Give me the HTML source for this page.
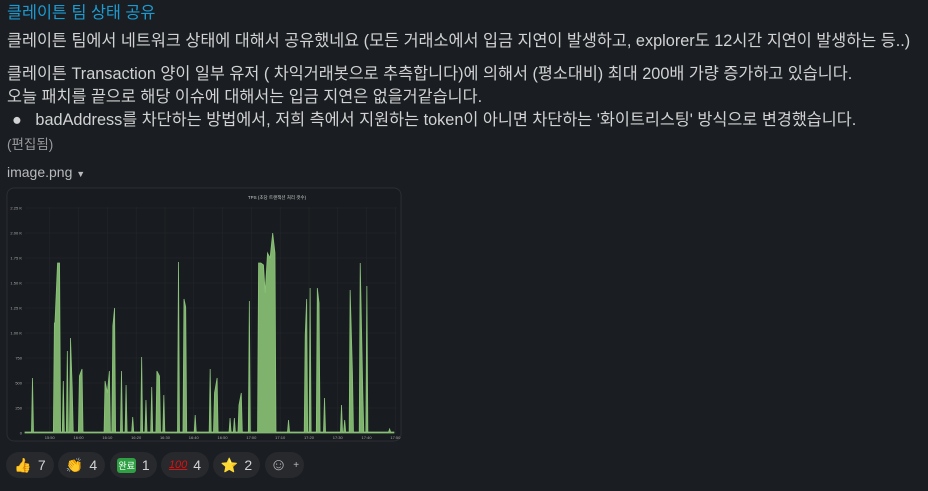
<!DOCTYPE html>
<html><head><meta charset="utf-8">
<style>
html,body{margin:0;padding:0;background:#1a1d21;width:928px;height:491px;overflow:hidden}
body{font-family:"Liberation Sans","Noto Sans CJK KR",sans-serif;color:#d1d2d3;position:relative}
.t{position:absolute;left:7px;white-space:nowrap;font-size:16.3px;line-height:20px}
.pill{position:absolute;top:452px;height:26px;border-radius:13px;background:#27292d;font-size:14px;color:#d1d2d3;display:flex;align-items:center;justify-content:center;gap:6px}
</style></head><body>
<div class="t" style="top:3px;color:#1d9bd1">클레이튼 팀 상태 공유</div>
<div class="t" style="top:31px">클레이튼 팀에서 네트워크 상태에 대해서 공유했네요 (모든 거래소에서 입금 지연이 발생하고, explorer도 12시간 지연이 발생하는 등..)</div>
<div class="t" style="top:64px">클레이튼 Transaction 양이 일부 유저 ( 차익거래봇으로 추측합니다)에 의해서 (평소대비) 최대 200배 가량 증가하고 있습니다.</div>
<div class="t" style="top:87px">오늘 패치를 끝으로 해당 이슈에 대해서는 입금 지연은 없을거같습니다.</div>
<div class="t" style="top:110px;left:12px">●&nbsp;&nbsp;&nbsp;badAddress를 차단하는 방법에서, 저희 측에서 지원하는 token이 아니면 차단하는 '화이트리스팅' 방식으로 변경했습니다.</div>
<div class="t" style="top:135px;font-size:13.5px;color:#9a9b9e">(편집됨)</div>
<div class="t" style="top:162px;font-size:14px;color:#b9babd">image.png <span style="font-size:9px">▼</span></div>

<svg style="position:absolute;left:0;top:0" width="928" height="491">
<rect x="7" y="188" width="394" height="253" rx="7" fill="#181b1f" stroke="#2c2e33"/>
<text x="277" y="199" fill="#ccc" font-size="4.5" text-anchor="middle" font-family="Liberation Sans, Noto Sans CJK KR, sans-serif">TPS (초당 트랜잭션 처리 갯수)</text>
<g id="grid"></g><g id="series"></g><g id="labels"></g>
</svg>

<div class="pill" style="left:6px;width:48px"><span>👍</span>7</div>
<div class="pill" style="left:58px;width:47px"><span>👏</span>4</div>
<div class="pill" style="left:110px;width:47px"><span style="background:#2ea043;color:#fff;font-size:9px;border-radius:3px;padding:1px 1px">완료</span>1</div>
<div class="pill" style="left:161px;width:48px"><span style="color:#d11;font-size:11px;font-style:italic;text-decoration:underline">100</span>4</div>
<div class="pill" style="left:213px;width:47px"><span>⭐</span>2</div>
<div class="pill" style="left:265px;width:39px;font-size:17px;color:#bbb">☺<sup style="font-size:10px">+</sup></div>

<script>
const times=[44.0,51.6,51.8,52.7,53.4,54.7,56.1,57.2,57.8,60.3,61.2,69.2,70.0,70.7,71.9,72.5,74.9,76.5,78.8,81.9,83.4,85.4,87.2,88.1,89.6,94.7,96.6,97.2,100.5,105.7,107.2,108.1,112.6,114.1,115.7,116.5,119.3,122.5,123.3,124.2,124.8,125.6,126.5,127.4,128.2,132.9,138.7,139.2,140.4,142.9,143.5,145.4,151.3,152.4,154.3,155.1,157.8,158.7,160.1,168.0];
const values=[550,1100,1100,1700,1700,520,820,950,450,570,640,520,400,620,1070,1250,620,480,160,760,330,460,620,570,380,1710,1340,1260,180,640,400,550,150,150,280,400,1320,1700,1700,1680,1400,1800,1750,2000,1800,130,980,1340,1450,1450,1300,350,280,130,1430,600,1700,400,1470,40];
const yTicks=[0,250,500,750,1000,1250,1500,1750,2000,2250];
const yTickLabels=["0","250","500","750","1.00 K","1.25 K","1.50 K","1.75 K","2.00 K","2.25 K"];
const xTicks=[50,60,70,80,90,100,110,120,130,140,150,160,170];
const xTickLabels=["15:50","16:00","16:10","16:20","16:30","16:40","16:50","17:00","17:10","17:20","17:30","17:40","17:50"];
const xMin=41.4,xMax=169.5,baseline=10;
const NS="http://www.w3.org/2000/svg";
function X(m){return 25+(m-xMin)*2.88;}
function Y(v){return 433-v*0.1;}
const grid=document.getElementById('grid'),labels=document.getElementById('labels'),series=document.getElementById('series');
yTicks.forEach((v,i)=>{
 const l=document.createElementNS(NS,'line');
 
 
 l.setAttribute('x1',25);l.setAttribute('x2',397);l.setAttribute('y1',Y(v));l.setAttribute('y2',Y(v));
 l.setAttribute('stroke','#24272b');l.setAttribute('stroke-width','0.6');grid.appendChild(l);
 const t=document.createElementNS(NS,'text');
 
 
 t.setAttribute('x',22);t.setAttribute('y',Y(v)+1.5);t.setAttribute('text-anchor','end');
 t.setAttribute('font-size','4');t.setAttribute('fill','#aaa');t.setAttribute('font-family','Liberation Sans, sans-serif');
 t.textContent=yTickLabels[i];labels.appendChild(t);
});
xTicks.forEach((m,i)=>{
 const l=document.createElementNS(NS,'line');
 
 
 l.setAttribute('x1',X(m));l.setAttribute('x2',X(m));l.setAttribute('y1',207);l.setAttribute('y2',433);
 l.setAttribute('stroke','#24272b');l.setAttribute('stroke-width','0.6');grid.appendChild(l);
 const t=document.createElementNS(NS,'text');
 
 
 t.setAttribute('x',X(m));t.setAttribute('y',439);t.setAttribute('text-anchor','middle');
 t.setAttribute('font-size','4');t.setAttribute('fill','#aaa');t.setAttribute('font-family','Liberation Sans, sans-serif');
 t.textContent=xTickLabels[i];labels.appendChild(t);
});
let pts=[[xMin,baseline]];let prev=xMin;
times.forEach((m,i)=>{
 if(m-prev>1.0){pts.push([prev+0.35,baseline]);pts.push([m-0.35,baseline]);}
 pts.push([m,values[i]]);prev=m;
});
pts.push([prev+0.35,baseline]);pts.push([xMax,baseline]);
let d='M'+X(xMin)+','+Y(0);
pts.forEach(p=>{d+=' L'+X(p[0]).toFixed(2)+','+Y(p[1]).toFixed(2);});
d+=' L'+X(xMax)+','+Y(0)+' Z';
const path=document.createElementNS(NS,'path');


path.setAttribute('d',d);path.setAttribute('fill','#7eb26d');path.setAttribute('stroke','#8bc37a');path.setAttribute('stroke-width','0.8');
series.appendChild(path);
</script>
</body></html>
